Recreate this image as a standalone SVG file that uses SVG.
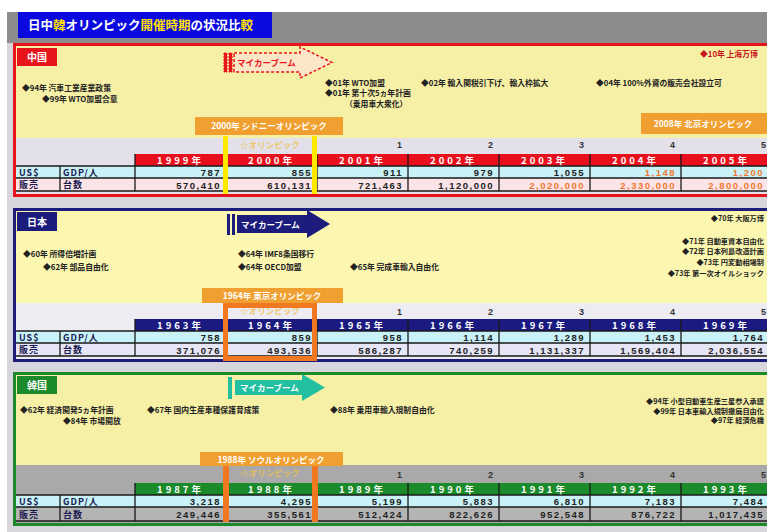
<svg xmlns="http://www.w3.org/2000/svg" width="767" height="532" viewBox="0 0 767 532">
<style>
text{font-family:"Noto Sans CJK JP","Noto Sans",sans-serif;font-weight:bold}
.ttl{font-size:12.5px;fill:#fff}
.lab{font-size:10px;fill:#fff;text-anchor:middle}
.ev{font-size:7.8px;fill:#222}
.evs{font-size:7.2px;fill:#222;text-anchor:end}
.evr{font-size:7.8px;fill:#c8141c}
.ol{font-size:8.5px;fill:#fff;text-anchor:middle}
.olf{font-size:8.5px;fill:#f0c050;text-anchor:middle;opacity:.8}
.tk{font-size:9px;fill:#333;font-family:"Liberation Sans",sans-serif}
.yr{font-size:9.5px;fill:#fff;text-anchor:middle;letter-spacing:3px}
.num{font-size:9.5px;fill:#222;text-anchor:end;letter-spacing:1.5px;font-family:"Liberation Sans",sans-serif}
.numo{font-size:9.5px;fill:#f07830;text-anchor:end;letter-spacing:1.5px;font-family:"Liberation Sans",sans-serif}
.cl{font-size:9px;fill:#1a1a50;letter-spacing:1px}
.grid{stroke:#1a1a1a;stroke-width:1.3;fill:none}
.arr{font-size:8.5px;fill:#fff}
</style>
<rect x="0" y="0" width="767" height="532" fill="#fff"/>
<rect x="7" y="12" width="760" height="520" fill="#d6d6dc"/>
<rect x="7" y="12" width="760" height="31" fill="#8c8c8c"/>
<g id="title">
<rect x="18" y="12" width="254" height="26" fill="#0a0ae0"/>
<text x="28" y="30" class="ttl">日中<tspan fill="#ffe000">韓</tspan>オリンピック<tspan fill="#ffe000">開催時期</tspan>の状況比<tspan fill="#ffe000">較</tspan></text>
</g>

<!-- CHINA -->
<g id="china">
<rect x="14.5" y="44.5" width="770" height="151" fill="#f6efa6" stroke="#e8141c" stroke-width="3"/>
<rect x="16" y="138" width="760" height="56" fill="#e4e0ea"/>
<rect x="17" y="48" width="40" height="18" fill="#e8141c"/>
<text x="37" y="61" class="lab">中国</text>
<g id="china-arrow">
<rect x="224" y="53" width="3" height="19" fill="#e8141c" stroke="#e8141c" stroke-dasharray="2 1"/>
<rect x="229" y="53" width="3" height="19" fill="#e8141c" stroke="#e8141c" stroke-dasharray="2 1"/>
<path d="M234 53 H300 V47 L332 62.5 L300 78 V72 H234 Z" fill="#fbe6c8" stroke="#e8141c" stroke-width="1.5" stroke-dasharray="3 2"/>
<text x="237" y="66" class="arr" style="fill:#e8141c">マイカーブーム</text>
</g>
<text x="22" y="91" class="ev">◆94年 汽車工業産業政策</text>
<text x="42" y="102" class="ev">◆99年 WTO加盟合意</text>
<text x="325" y="86" class="ev">◆01年 WTO加盟</text>
<text x="325" y="96" class="ev">◆01年 第十次5ヵ年計画</text>
<text x="345" y="107" class="ev">（乗用車大衆化）</text>
<text x="421" y="86" class="ev">◆02年 輸入関税引下げ、輸入枠拡大</text>
<text x="596" y="86" class="ev">◆04年 100%外資の販売会社設立可</text>
<text x="700" y="57" class="evr">◆10年 上海万博</text>
<rect x="195" y="117" width="148" height="18" fill="#f0a030"/>
<text x="269" y="129" class="ol">2000年 シドニーオリンピック</text>
<rect x="641" y="113" width="140" height="21" fill="#f0a030"/>
<text x="703" y="127" class="ol">2008年 北京オリンピック</text>
<text x="270" y="148" class="olf">☆オリンピック</text>
<text x="402" y="148" class="tk" text-anchor="end">1</text>
<text x="493" y="148" class="tk" text-anchor="end">2</text>
<text x="584" y="148" class="tk" text-anchor="end">3</text>
<text x="675" y="148" class="tk" text-anchor="end">4</text>
<text x="766" y="148" class="tk" text-anchor="end">5</text>
<g id="china-table">
<rect x="135" y="154" width="637" height="12" fill="#e8101c"/>
<rect x="16" y="166" width="756" height="12" fill="#c8f2f8"/>
<rect x="16" y="178" width="756" height="13" fill="#fbe4e8"/>
<path class="grid" d="M16 166H772M16 178H772M16 191H772M60 166V191M135 154V191M226 154V191M317 154V191M408 154V191M499 154V191M590 154V191M681 154V191"/>
<text x="180.5" y="164" class="yr">1999年</text>
<text x="271.5" y="164" class="yr">2000年</text>
<text x="362.5" y="164" class="yr">2001年</text>
<text x="453.5" y="164" class="yr">2002年</text>
<text x="544.5" y="164" class="yr">2003年</text>
<text x="635.5" y="164" class="yr">2004年</text>
<text x="726.5" y="164" class="yr">2005年</text>
<text x="19" y="175.5" class="cl">US$</text>
<text x="63" y="175.5" class="cl">GDP/人</text>
<text x="19" y="188" class="cl">販売</text>
<text x="63" y="188" class="cl">台数</text>
<text x="221" y="176" class="num">787</text>
<text x="312" y="176" class="num">855</text>
<text x="403" y="176" class="num">911</text>
<text x="494" y="176" class="num">979</text>
<text x="585" y="176" class="num">1,055</text>
<text x="676" y="176" class="numo">1,148</text>
<text x="764" y="176" class="numo">1,200</text>
<text x="221" y="188.5" class="num">570,410</text>
<text x="312" y="188.5" class="num">610,131</text>
<text x="403" y="188.5" class="num">721,463</text>
<text x="494" y="188.5" class="num">1,120,000</text>
<text x="585" y="188.5" class="numo">2,020,000</text>
<text x="676" y="188.5" class="numo">2,330,000</text>
<text x="764" y="188.5" class="numo">2,800,000</text>
</g>
<rect x="223" y="136" width="5" height="58" fill="#ffe800"/>
<rect x="312" y="136" width="5" height="58" fill="#ffe800"/>
</g>

<!-- JAPAN -->
<g id="japan">
<rect x="14.5" y="209.5" width="770" height="151" fill="#fbf6b0" stroke="#1c1c7c" stroke-width="3"/>
<rect x="16" y="303" width="760" height="56" fill="#ececf2"/>
<rect x="17" y="212" width="40" height="19" fill="#1c1c7c"/>
<text x="37" y="225.5" class="lab">日本</text>
<g id="japan-arrow">
<rect x="227" y="214" width="3" height="21" fill="#1c1c7c"/>
<rect x="232" y="214" width="3" height="21" fill="#1c1c7c"/>
<path d="M237 215 H307 V210 L330 224 L307 238 V233 H237 Z" fill="#1c1c7c"/>
<text x="241" y="227.5" class="arr">マイカーブーム</text>
</g>
<text x="23" y="257" class="ev">◆60年 所得倍増計画</text>
<text x="43" y="270" class="ev">◆62年 部品自由化</text>
<text x="238" y="257" class="ev">◆64年 IMF8条国移行</text>
<text x="238" y="270" class="ev">◆64年 OECD加盟</text>
<text x="350" y="270" class="ev">◆65年 完成車輸入自由化</text>
<text x="764" y="221" class="evs">◆70年 大阪万博</text>
<text x="764" y="244" class="evs">◆71年 自動車資本自由化</text>
<text x="764" y="254" class="evs">◆72年 日本列島改造計画</text>
<text x="764" y="265" class="evs">◆73年 円変動相場制</text>
<text x="764" y="276" class="evs">◆73年 第一次オイルショック</text>
<rect x="202" y="288" width="141" height="15" fill="#f0a030"/>
<text x="272" y="299" class="ol">1964年 東京オリンピック</text>
<text x="270" y="314" class="olf">☆オリンピック</text>
<text x="402" y="315" class="tk" text-anchor="end">1</text>
<text x="493" y="315" class="tk" text-anchor="end">2</text>
<text x="584" y="315" class="tk" text-anchor="end">3</text>
<text x="675" y="315" class="tk" text-anchor="end">4</text>
<text x="766" y="315" class="tk" text-anchor="end">5</text>
<g id="japan-table">
<rect x="135" y="319" width="637" height="12" fill="#1a1a80"/>
<rect x="16" y="331" width="756" height="12" fill="#c8f2f8"/>
<rect x="16" y="343" width="756" height="13" fill="#e6e6f6"/>
<path class="grid" d="M16 331H772M16 343H772M16 356H772M60 331V356M135 319V356M226 319V356M317 319V356M408 319V356M499 319V356M590 319V356M681 319V356"/>
<text x="180.5" y="329" class="yr">1963年</text>
<text x="271.5" y="329" class="yr">1964年</text>
<text x="362.5" y="329" class="yr">1965年</text>
<text x="453.5" y="329" class="yr">1966年</text>
<text x="544.5" y="329" class="yr">1967年</text>
<text x="635.5" y="329" class="yr">1968年</text>
<text x="726.5" y="329" class="yr">1969年</text>
<text x="19" y="340.5" class="cl">US$</text>
<text x="63" y="340.5" class="cl">GDP/人</text>
<text x="19" y="353" class="cl">販売</text>
<text x="63" y="353" class="cl">台数</text>
<text x="221" y="341" class="num">758</text>
<text x="312" y="341" class="num">859</text>
<text x="403" y="341" class="num">958</text>
<text x="494" y="341" class="num">1,114</text>
<text x="585" y="341" class="num">1,289</text>
<text x="676" y="341" class="num">1,453</text>
<text x="764" y="341" class="num">1,764</text>
<text x="221" y="353.5" class="num">371,076</text>
<text x="312" y="353.5" class="num">493,536</text>
<text x="403" y="353.5" class="num">586,287</text>
<text x="494" y="353.5" class="num">740,259</text>
<text x="585" y="353.5" class="num">1,131,337</text>
<text x="676" y="353.5" class="num">1,569,404</text>
<text x="764" y="353.5" class="num">2,036,554</text>
</g>
<rect x="225.5" y="305.5" width="89" height="53" fill="none" stroke="#f07820" stroke-width="5"/>
</g>

<!-- KOREA -->
<g id="korea">
<rect x="14.5" y="373.5" width="770" height="151" fill="#f6efa6" stroke="#1a8a2a" stroke-width="3"/>
<rect x="16" y="465" width="760" height="58" fill="#a9a9a9"/>
<rect x="17" y="376" width="40" height="18" fill="#1a8a2a"/>
<text x="37" y="389" class="lab">韓国</text>
<g id="korea-arrow">
<rect x="228" y="377" width="4" height="22" fill="#22c0a0"/>
<path d="M235 380 H302 V374 L325 387.5 L302 401 V395 H235 Z" fill="#22c0a0"/>
<text x="240" y="391" class="arr">マイカーブーム</text>
</g>
<text x="20" y="413" class="ev">◆62年 経済開発5ヵ年計画</text>
<text x="147" y="413" class="ev">◆67年 国内生産車種保護育成策</text>
<text x="63" y="424" class="ev">◆84年 市場開放</text>
<text x="330" y="413" class="ev">◆88年 乗用車輸入規制自由化</text>
<text x="764" y="404" class="evs">◆94年 小型自動車生産三星参入承認</text>
<text x="764" y="413.5" class="evs">◆99年 日本車輸入規制撤廃自由化</text>
<text x="764" y="423" class="evs">◆97年 経済危機</text>
<rect x="200" y="452" width="143" height="14" fill="#f0a030"/>
<text x="271" y="462.5" class="ol">1988年 ソウルオリンピック</text>
<text x="270" y="476" class="olf">☆オリンピック</text>
<text x="402" y="478" class="tk" text-anchor="end">1</text>
<text x="493" y="478" class="tk" text-anchor="end">2</text>
<text x="584" y="478" class="tk" text-anchor="end">3</text>
<text x="675" y="478" class="tk" text-anchor="end">4</text>
<text x="766" y="478" class="tk" text-anchor="end">5</text>
<g id="korea-table">
<rect x="135" y="483" width="637" height="12" fill="#1a8a2a"/>
<rect x="16" y="495" width="756" height="12" fill="#c8f2f8"/>
<rect x="16" y="507" width="756" height="14" fill="#b4b4b4"/>
<path class="grid" d="M16 495H772M16 507H772M16 521H772M60 495V521M135 483V521M226 483V521M317 483V521M408 483V521M499 483V521M590 483V521M681 483V521"/>
<text x="180.5" y="493" class="yr">1987年</text>
<text x="271.5" y="493" class="yr">1988年</text>
<text x="362.5" y="493" class="yr">1989年</text>
<text x="453.5" y="493" class="yr">1990年</text>
<text x="544.5" y="493" class="yr">1991年</text>
<text x="635.5" y="493" class="yr">1992年</text>
<text x="726.5" y="493" class="yr">1993年</text>
<text x="19" y="504.5" class="cl">US$</text>
<text x="63" y="504.5" class="cl">GDP/人</text>
<text x="19" y="517.5" class="cl">販売</text>
<text x="63" y="517.5" class="cl">台数</text>
<text x="221" y="505" class="num">3,218</text>
<text x="312" y="505" class="num">4,295</text>
<text x="403" y="505" class="num">5,199</text>
<text x="494" y="505" class="num">5,883</text>
<text x="585" y="505" class="num">6,810</text>
<text x="676" y="505" class="num">7,183</text>
<text x="764" y="505" class="num">7,484</text>
<text x="221" y="518" class="num">249,446</text>
<text x="312" y="518" class="num">355,561</text>
<text x="403" y="518" class="num">512,424</text>
<text x="494" y="518" class="num">822,626</text>
<text x="585" y="518" class="num">952,548</text>
<text x="676" y="518" class="num">876,722</text>
<text x="764" y="518" class="num">1,017,435</text>
</g>
<rect x="223" y="466" width="6" height="56" fill="#f07820"/>
<rect x="312" y="466" width="6" height="56" fill="#f07820"/>
</g>
</svg>
